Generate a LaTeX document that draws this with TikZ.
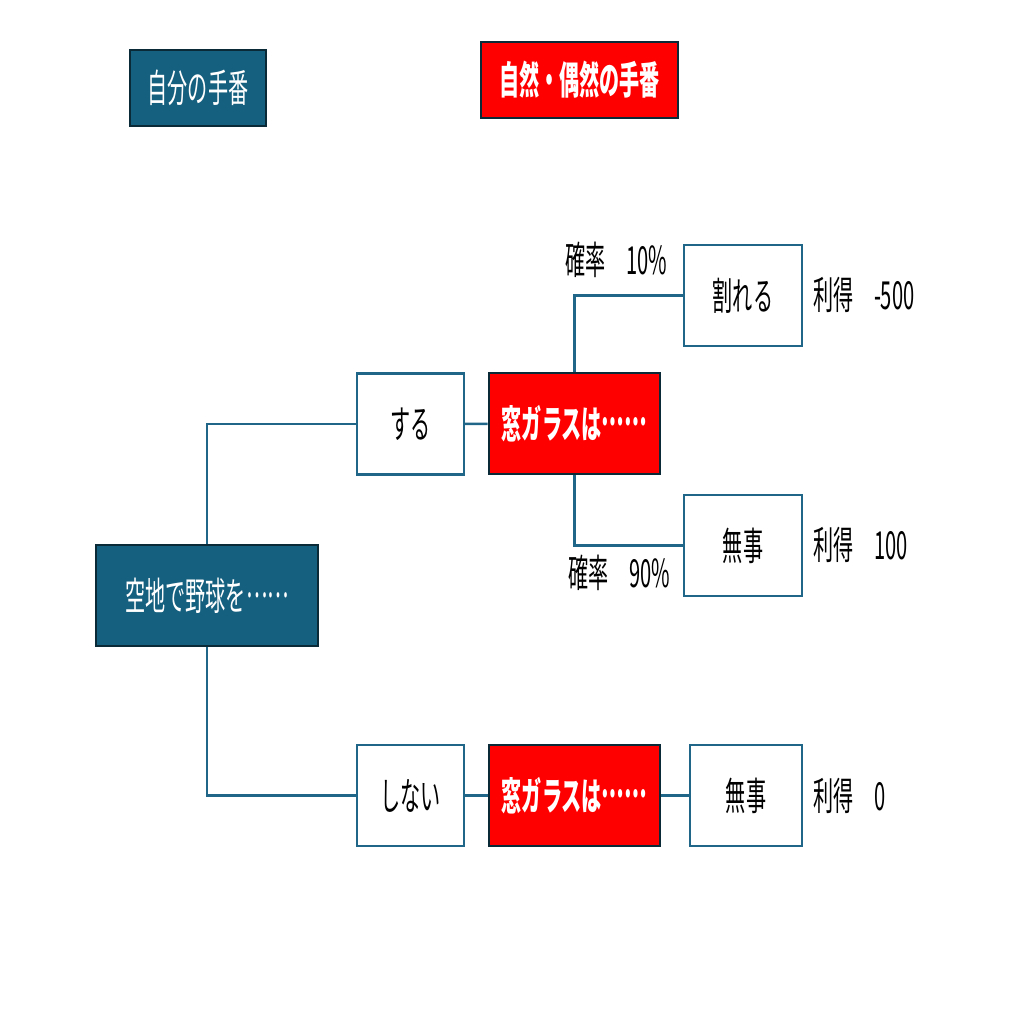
\documentclass[tikz,border=0pt]{standalone}
\usepackage{fontspec}
\setmainfont{Noto Sans CJK JP}
\usetikzlibrary{positioning}
\definecolor{deepteal}{HTML}{16607F}
\definecolor{darkedge}{HTML}{0B2A38}
\definecolor{linkteal}{HTML}{1F6688}
\newcommand{\narrow}[1]{\scalebox{0.52}[1]{#1}}
\newcommand{\middots}{\raisebox{0.33em}{……}}

\begin{document}
\begin{tikzpicture}[x=0.02cm,y=-0.02cm,thick,
  main node/.style={rectangle,draw=darkedge,line width=1.5pt,fill=deepteal,text=white,inner sep=0pt,minimum height=2.02cm,font=\fontsize{22}{26}\selectfont},
  chance node/.style={main node,fill=red,font=\fontsize{22}{26}\selectfont\bfseries},
  act node/.style={rectangle,draw=linkteal,line width=1.4pt,fill=white,text=black,inner sep=0pt,minimum height=2.02cm,font=\fontsize{22}{26}\selectfont},
  gain/.style={anchor=west,inner sep=0pt,font=\fontsize{22}{26}\selectfont},
  link/.style={draw=linkteal,line width=1.4pt}]
\useasboundingbox (0,0) rectangle (1018,1018);

% legend
\node[main node,minimum width=2.72cm,minimum height=1.52cm] (mine) at (198,88) {\narrow{自分の手番}};
\node[chance node,minimum width=3.94cm,minimum height=1.52cm] (nature) at (579.5,80) {\narrow{自然・偶然の手番}};

% tree
\node[main node,minimum width=4.44cm] (root) at (207,595.5) {\narrow{空地で野球を\middots}};
\node[act node,minimum width=2.14cm] (do) at (410.5,424) {\narrow{する}};
\node[chance node,minimum width=3.42cm] (glassa) at (574.5,423.5) {\narrow{窓ガラスは\middots}};
\node[act node,minimum width=2.36cm] (broken) at (743,295.5) {\narrow{割れる}};
\node[act node,minimum width=2.36cm] (safea) at (743,545.5) {\narrow{無事}};
\node[act node,minimum width=2.14cm] (dont) at (410.5,795.5) {\narrow{しない}};
\node[chance node,minimum width=3.42cm] (glassb) at (574.5,795.5) {\narrow{窓ガラスは\middots}};
\node[act node,minimum width=2.24cm] (safeb) at (746,795.5) {\narrow{無事}};

% labels
\node[gain] (pa) at (565,260) {\narrow{確率　10\%}};
\node[gain] (pb) at (568,573) {\narrow{確率　90\%}};
\node[gain] (ga) at (813,295) {\narrow{利得　-500}};
\node[gain] (gb) at (813,545) {\narrow{利得　100}};
\node[gain] (gc) at (813,796) {\narrow{利得　0}};

\draw[link] (root.north) |- (do.west);
\draw[link] (root.south) |- (dont.west);
\draw[link] (do) -- (glassa);
\draw[link] (glassa.north) |- (broken.west);
\draw[link] (glassa.south) |- (safea.west);
\draw[link] (dont) -- (glassb);
\draw[link] (glassb) -- (safeb);
\end{tikzpicture}
\end{document}
